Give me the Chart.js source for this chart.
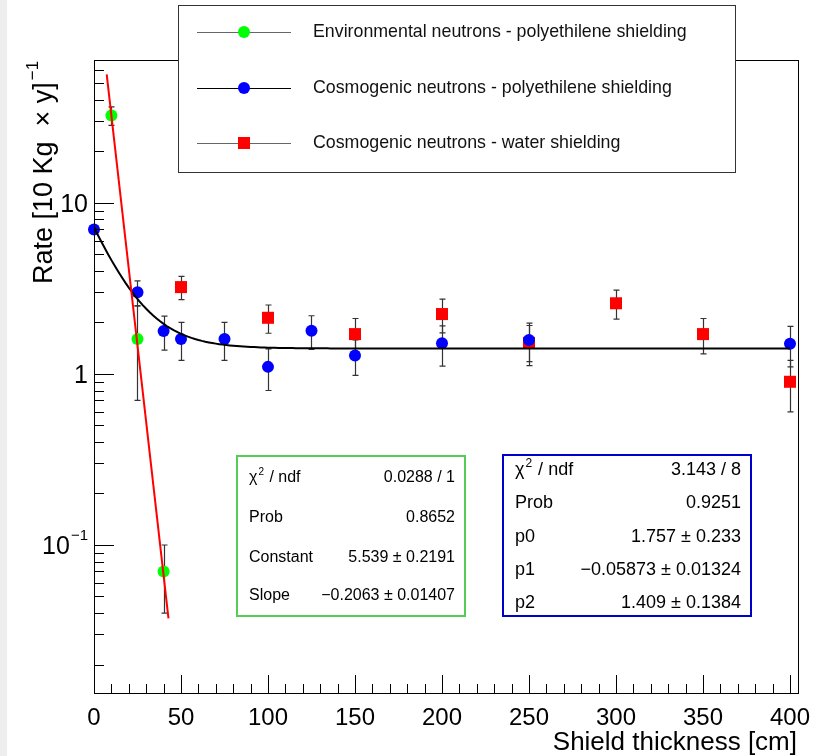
<!DOCTYPE html>
<html>
<head>
<meta charset="utf-8">
<script src="https://cdn.jsdelivr.net/npm/chart.js@4.4.0/dist/chart.umd.min.js"></script>
<style>
html, body { margin: 0; padding: 0; background: #fff; }
#grafico { display: block; }
</style>
</head>
<body>
<canvas id="grafico" width="818" height="756"></canvas>
<script>
// --- DATA ---
const envX = [10, 25, 40];
const envY = [32.4, 1.6, 0.07];
const envErr = [4, 0.9, 0.03];

const polyX = [0, 25, 40, 50, 75, 100, 125, 150, 200, 250, 400];
const polyY = [7.0, 3.0, 1.78, 1.6, 1.6, 1.1, 1.79, 1.28, 1.51, 1.58, 1.5];
const polyErr = [0, 0.5, 0.4, 0.4, 0.4, 0.3, 0.4, 0.3, 0.4, 0.4, 0.4];

const waterX = [50, 100, 150, 200, 250, 300, 350, 400];
const waterY = [3.22, 2.13, 1.71, 2.24, 1.52, 2.59, 1.71, 0.9];
const waterErr = [0.5, 0.4, 0.4, 0.5, 0.4, 0.5, 0.4, 0.3];

// fit results, as printed in the stat boxes
const expoPar = [5.539, -0.2063];          // Constant, Slope
const expoRange = [7.3, 42.8];
const cosFitPar = [1.757, -0.05873, 1.409]; // p0, p1, p2
const cosFitRange = [0, 400];

// axes
const xRange = [0, 404.6];
const yRange = [0.01363, 68.5];
const xMajorTicks = [0, 50, 100, 150, 200, 250, 300, 350, 400];
const yMajorTicks = [0.1, 1, 10];
const yTickLabels = [['10', '\u22121'], ['1', ''], ['10', '']];

const legendLabels = [
    'Environmental neutrons - polyethilene shielding',
    'Cosmogenic neutrons - polyethilene shielding',
    'Cosmogenic neutrons - water shielding'
];

const envStatNames = ['\u03c7', 'Prob', 'Constant', 'Slope'];
const envStatValues = ['0.0288 / 1', '0.8652', '5.539 \u00b1 0.2191', '\u22120.2063 \u00b1 0.01407'];
const polyStatNames = ['\u03c7', 'Prob', 'p0', 'p1', 'p2'];
const polyStatValues = ['3.143 / 8', '0.9251', '1.757 \u00b1 0.233', '\u22120.05873 \u00b1 0.01324', '1.409 \u00b1 0.1384'];

const FONT = '"Liberation Sans", Arial, Helvetica, sans-serif';

// --- build datasets ---
function pts(xs, ys) {
    return xs.map((x, i) => ({ x: x, y: ys[i] }));
}

const expoLine = expoRange.map(x => ({ x: x, y: Math.exp(expoPar[0] + expoPar[1] * x) }));
const cosLine = [];
for (let x = cosFitRange[0]; x <= cosFitRange[1]; x += 2) {
    cosLine.push({ x: x, y: Math.exp(cosFitPar[0] + cosFitPar[1] * x) + cosFitPar[2] });
}

// --- ROOT-like decorations ---
function drawErrors(chart, xs, ys, errs) {
    const sx = chart.scales.x, sy = chart.scales.y, c = chart.ctx;
    c.save();
    c.strokeStyle = '#333';
    c.lineWidth = 1.2;
    xs.forEach((x, i) => {
        if (!errs[i]) return;
        const px = Math.round(sx.getPixelForValue(x)) + 0.5;
        const top = sy.getPixelForValue(ys[i] + errs[i]);
        const bot = sy.getPixelForValue(Math.max(ys[i] - errs[i], yRange[0]));
        c.beginPath();
        c.moveTo(px, top); c.lineTo(px, bot);
        c.moveTo(px - 3, top); c.lineTo(px + 3, top);
        c.moveTo(px - 3, bot); c.lineTo(px + 3, bot);
        c.stroke();
    });
    c.restore();
}

function drawMarker(c, style, color, x, y) {
    c.fillStyle = color;
    if (style === 'rect') {
        c.fillRect(x - 6, y - 6, 12, 12);
    } else {
        c.beginPath();
        c.arc(x, y, 6, 0, Math.PI * 2);
        c.fill();
    }
}

function drawStatBox(c, box, names, values, rows, fontPx, color) {
    c.save();
    c.fillStyle = '#fff';
    c.fillRect(box[0], box[1], box[2] - box[0], box[3] - box[1]);
    c.strokeStyle = color;
    c.lineWidth = 2;
    c.strokeRect(box[0], box[1], box[2] - box[0], box[3] - box[1]);
    c.fillStyle = '#000';
    c.textBaseline = 'middle';
    names.forEach((n, i) => {
        const y = rows[i];
        const lx = box[0] + 12;
        c.font = fontPx + 'px ' + FONT;
        c.textAlign = 'left';
        if (n === '\u03c7') {
            c.fillText(n, lx, y);
            let w = c.measureText(n).width;
            c.font = Math.round(fontPx * 0.65) + 'px ' + FONT;
            c.fillText('2', lx + w + 1, y - fontPx * 0.35);
            const w2 = c.measureText('2').width;
            c.font = fontPx + 'px ' + FONT;
            c.fillText(' / ndf', lx + w + w2 + 2, y);
        } else {
            c.fillText(n, lx, y);
        }
        c.textAlign = 'right';
        c.fillText(values[i], box[2] - 10, y);
    });
    c.restore();
}

const rootStyle = {
    id: 'rootStyle',
    beforeDraw(chart) {
        const c = chart.ctx;
        c.save();
        c.fillStyle = '#fff';
        c.fillRect(0, 0, chart.width, chart.height);
        c.fillStyle = '#eeeeee';
        c.fillRect(0, 0, 7, chart.height);
        c.restore();
    },
    beforeDatasetsDraw(chart) {
        drawErrors(chart, envX, envY, envErr);
        drawErrors(chart, polyX, polyY, polyErr);
        drawErrors(chart, waterX, waterY, waterErr);
    },
    afterDraw(chart) {
        const c = chart.ctx;
        const a = chart.chartArea;
        const sx = chart.scales.x, sy = chart.scales.y;
        c.save();

        // frame
        c.strokeStyle = '#000';
        c.lineWidth = 1;
        c.strokeRect(Math.round(a.left) + 0.5, Math.round(a.top) + 0.5,
            Math.round(a.right - a.left), Math.round(a.bottom - a.top));

        // x ticks (inside)
        c.beginPath();
        for (let v = 0; v <= xRange[1]; v += 10) {
            const px = Math.round(sx.getPixelForValue(v)) + 0.5;
            const len = (v % 50 === 0) ? 18 : 9;
            c.moveTo(px, a.bottom);
            c.lineTo(px, a.bottom - len);
        }
        // y ticks (inside)
        for (let d = 0.01; d <= 100; d *= 10) {
            for (let m = 1; m <= 9; m++) {
                const v = d * m;
                if (v < yRange[0] || v > yRange[1]) continue;
                const py = Math.round(sy.getPixelForValue(v)) + 0.5;
                const len = (m === 1) ? 20 : 10;
                c.moveTo(a.left, py);
                c.lineTo(a.left + len, py);
            }
        }
        c.stroke();

        // tick labels
        c.fillStyle = '#000';
        c.font = '24px ' + FONT;
        c.textAlign = 'center';
        c.textBaseline = 'middle';
        xMajorTicks.forEach(v => {
            c.fillText(String(v), sx.getPixelForValue(v), 718);
        });
        yMajorTicks.forEach((v, i) => {
            const py = sy.getPixelForValue(v);
            const main = yTickLabels[i][0], sup = yTickLabels[i][1];
            c.textAlign = 'right';
            let right = 88;
            if (sup) {
                c.font = '15px ' + FONT;
                c.fillText(sup, right, py - 9);
                right -= c.measureText(sup).width + 1;
            }
            c.font = '25px ' + FONT;
            c.fillText(main, right, py + 2);
        });

        // axis titles
        c.font = '26px ' + FONT;
        c.textAlign = 'right';
        c.textBaseline = 'alphabetic';
        c.fillText('Shield thickness [cm]', 797, 750);

        c.save();
        c.translate(52, 284);
        c.rotate(-Math.PI / 2);
        c.textAlign = 'left';
        c.font = '27px ' + FONT;
        const yt = 'Rate [10 Kg  \u00d7 y]';
        c.fillText(yt, 0, 0);
        const ytw = c.measureText(yt).width;
        c.font = '17px ' + FONT;
        c.fillText('\u22121', ytw + 2, -14);
        c.restore();

        // legend
        c.fillStyle = '#fff';
        c.fillRect(178, 5, 557, 167);
        c.strokeStyle = '#333';
        c.lineWidth = 1;
        c.strokeRect(178.5, 5.5, 557, 167);
        const rowsY = [32, 88, 143];
        const lineCols = ['#666', '#000', '#666'];
        chart.data.datasets.slice(2).forEach((ds, i) => {
            const y = rowsY[i];
            c.strokeStyle = lineCols[i];
            c.lineWidth = 1;
            c.beginPath();
            c.moveTo(197, y + 0.5);
            c.lineTo(291, y + 0.5);
            c.stroke();
            drawMarker(c, ds.pointStyle, ds.backgroundColor, 244, y);
            c.fillStyle = '#111';
            c.font = '17.8px ' + FONT;
            c.textAlign = 'left';
            c.textBaseline = 'middle';
            c.fillText(legendLabels[i], 313, y);
        });

        // stat boxes
        drawStatBox(c, [237, 456, 465, 616], envStatNames, envStatValues,
            [478, 518, 558, 596], 16, '#55cc55');
        drawStatBox(c, [503, 455, 751, 616], polyStatNames, polyStatValues,
            [470, 503, 537, 570, 603], 18, '#0000cc');

        c.restore();
    }
};

// --- CHART ---
const ctx = document.getElementById('grafico');

new Chart(ctx, {
    type: 'scatter',
    data: {
        datasets: [
            {
                label: 'expo fit',
                data: expoLine,
                showLine: true,
                borderColor: '#ff0000',
                borderWidth: 2,
                pointRadius: 0,
                tension: 0,
                order: 0
            },
            {
                label: 'cosmogenic fit',
                data: cosLine,
                showLine: true,
                borderColor: '#000000',
                borderWidth: 2,
                pointRadius: 0,
                tension: 0,
                order: 0
            },
            {
                label: legendLabels[0],
                data: pts(envX, envY),
                pointStyle: 'circle',
                pointRadius: 6,
                backgroundColor: '#00ff00',
                borderWidth: 0,
                clip: false,
                order: 1
            },
            {
                label: legendLabels[1],
                data: pts(polyX, polyY),
                pointStyle: 'circle',
                pointRadius: 6,
                backgroundColor: '#0000ff',
                borderWidth: 0,
                clip: false,
                order: 1
            },
            {
                label: legendLabels[2],
                data: pts(waterX, waterY),
                pointStyle: 'rect',
                pointRadius: 8.5,
                backgroundColor: '#ff0000',
                borderWidth: 0,
                clip: false,
                order: 1
            }
        ]
    },
    options: {
        responsive: false,
        animation: false,
        layout: { padding: { left: 94, right: 20, top: 60, bottom: 63 } },
        plugins: {
            legend: { display: false },
            tooltip: { enabled: false }
        },
        scales: {
            x: { type: 'linear', min: xRange[0], max: xRange[1], display: false },
            y: { type: 'logarithmic', min: yRange[0], max: yRange[1], display: false }
        }
    },
    plugins: [rootStyle]
});
</script>
</body>
</html>
